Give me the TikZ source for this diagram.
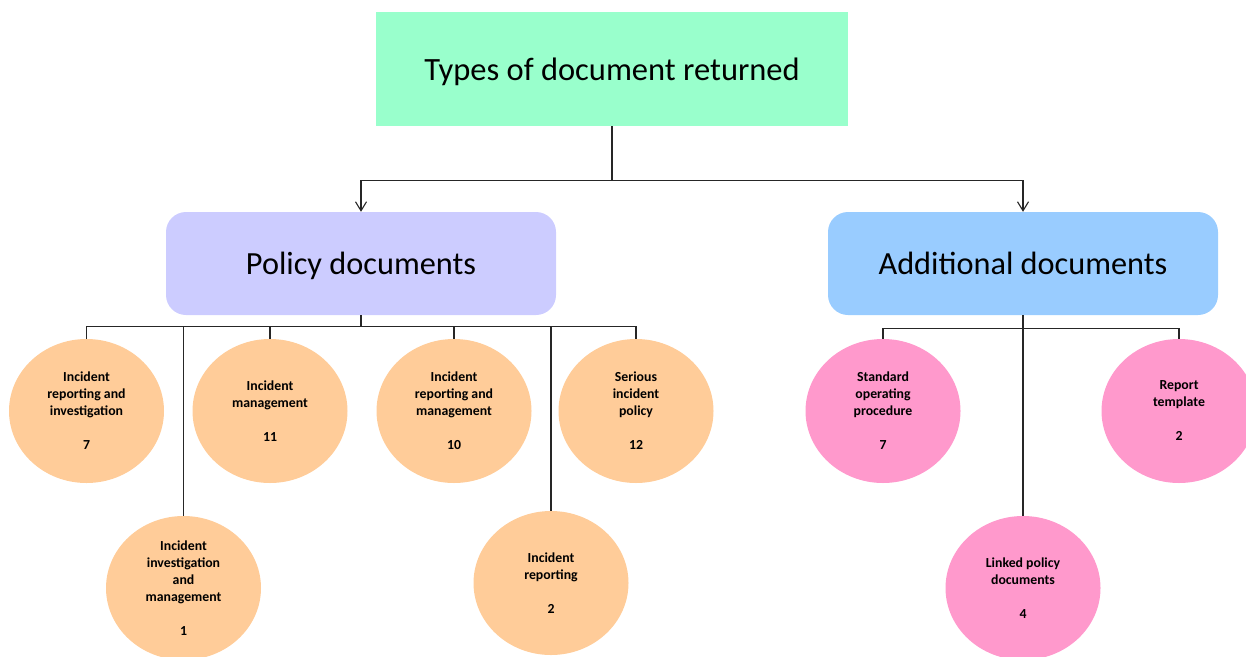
\documentclass[tikz,border=0pt]{standalone}
\usepackage{fontspec}
\setmainfont{Carlito}
\usetikzlibrary{shapes.geometric,arrows.meta}
\definecolor{topc}{HTML}{99FFCC}
\definecolor{polc}{HTML}{CCCCFF}
\definecolor{addc}{HTML}{99CCFF}
\definecolor{orc}{HTML}{FFCC99}
\definecolor{pkc}{HTML}{FF99CC}
\tikzset{
  bigbox/.style={rectangle, rounded corners=20pt, minimum width=390pt, minimum height=103pt, inner sep=0pt, text depth=0pt, font=\fontsize{32.3}{38}\selectfont},
  leaf/.style={ellipse, minimum width=155pt, minimum height=144pt, inner sep=0pt, align=center, font=\fontsize{13.8}{17}\selectfont\bfseries},
  conn/.style={line width=1.3pt, black!85},
  arr/.style={conn, -{Straight Barb[length=9pt,width=11pt,line width=1.1pt]}}
}
\begin{document}
\begin{tikzpicture}[x=1pt,y=-1pt]
\useasboundingbox (0,0) rectangle (1246,656);
\clip (0,0) rectangle (1246,656);
\node[rectangle, fill=topc, minimum width=472pt, minimum height=114pt, inner sep=0pt, text depth=0pt, font=\fontsize{32.5}{38}\selectfont] (top) at (612,69) {Types of document returned};
\node[bigbox, fill=polc] (pol) at (361,263.5) {Policy documents};
\node[bigbox, fill=addc] (add) at (1023,263.5) {Additional documents};
% policy leaves
\node[leaf, fill=orc] (p1) at (86.5,411) {Incident\\reporting and\\investigation\\[17pt]7};
\node[leaf, fill=orc] (p2) at (270,411) {Incident\\management\\[17pt]11};
\node[leaf, fill=orc] (p3) at (454,411) {Incident\\reporting and\\management\\[17pt]10};
\node[leaf, fill=orc] (p4) at (636,411) {Serious\\incident\\policy\\[17pt]12};
\node[leaf, fill=orc] (p5) at (183.5,588) {Incident\\investigation\\and\\management\\[17pt]1};
\node[leaf, fill=orc] (p6) at (551,583) {Incident\\reporting\\[17pt]2};
% additional leaves
\node[leaf, fill=pkc] (a1) at (883,411) {Standard\\operating\\procedure\\[17pt]7};
\node[leaf, fill=pkc] (a2) at (1179,411) {Report\\template\\[17pt]2};
\node[leaf, fill=pkc] (a3) at (1023,588) {Linked policy\\documents\\[17pt]4};
% connectors
\draw[conn] (top.south) -- ++(0,54) coordinate (tj);
\draw[arr] (tj) -| (pol.north);
\draw[arr] (tj) -| (add.north);
\draw[conn] (pol.south) -- ++(0,11) coordinate (pj);
\foreach \n in {p1,p2,p3,p4,p5,p6} \draw[conn] (pj) -| (\n.north);
\draw[conn] (add.south) -- ++(0,13) coordinate (aj);
\draw[conn] (aj) -| (a1.north);
\draw[conn] (aj) -| (a2.north);
\draw[conn] (add.south) -- (a3.north);
\end{tikzpicture}
\end{document}
